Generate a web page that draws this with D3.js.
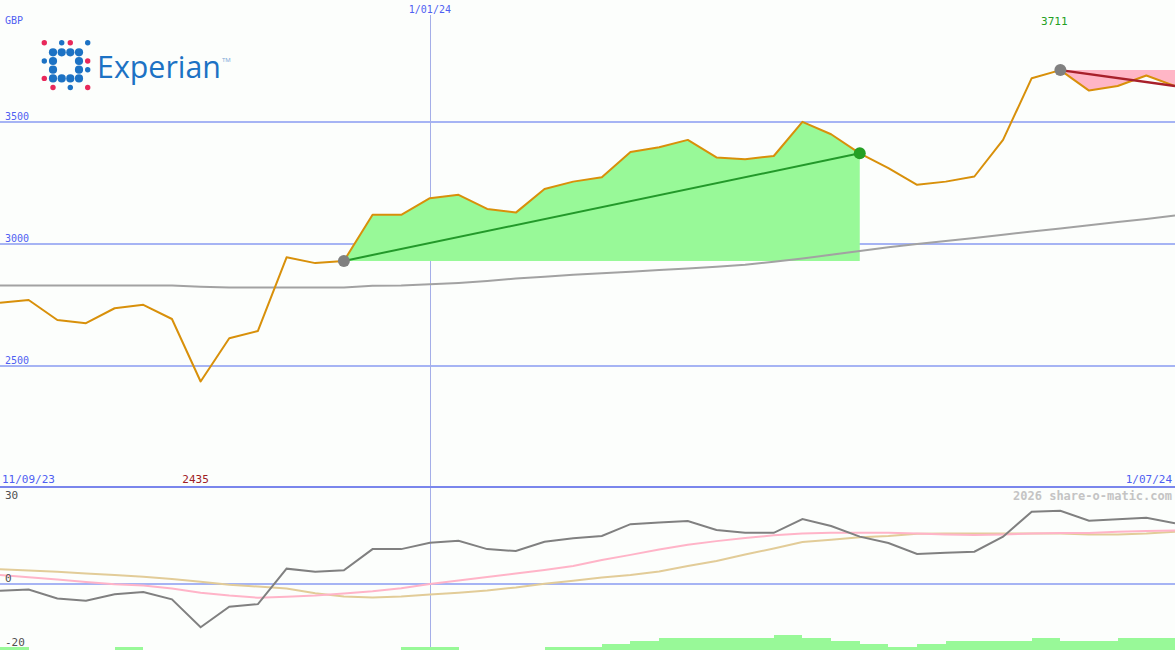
<!DOCTYPE html>
<html><head><meta charset="utf-8">
<script src="https://cdn.jsdelivr.net/npm/d3@7"></script>
<style>
html,body{margin:0;padding:0;background:#fcfefc;}
svg{display:block;}
text{font-family:"DejaVu Sans Mono","Liberation Mono",monospace;}
.crisp{shape-rendering:crispEdges;}
</style>
</head><body>
<svg id="chart" width="1175" height="650"></svg>
<script>
// ---------- data ----------
const dateLabels = ["11/09/23", "1/01/24", "1/07/24"];
const newYearIndex = 15;
const currency = "GBP";
const price = [2758,2769,2687,2674,2735,2749,2691,2435,2612,2642,2944,2920,2929,3118,3118,3186,3200,3142,3127,3224,3254,3272,3375,3395,3425,3353,3346,3359,3499,3448,3370,3309,3241,3254,3275,3425,3678,3711,3627,3646,3689,3646];
const movingAvg = [2828,2828,2828,2828,2828,2828,2828,2823,2820,2820,2820,2820,2820,2827,2828,2833,2839,2847,2857,2864,2872,2878,2885,2892,2898,2905,2913,2926,2939,2954,2970,2985,2998,3011,3023,3036,3050,3062,3075,3089,3101,3115];
const momentum = [-2.1,-1.7,-4.5,-5.2,-3.2,-2.5,-4.8,-13.5,-7.1,-6.3,4.8,3.8,4.3,10.9,10.9,12.9,13.5,10.9,10.3,13.2,14.3,15.0,18.7,19.2,19.7,16.9,16.0,16.0,20.3,18.1,14.8,12.8,9.4,9.8,10.1,14.8,22.6,22.9,19.8,20.2,20.7,19.0];
const signalPink = [2.8,2.1,1.4,0.6,-0.1,-0.5,-1.4,-2.7,-3.6,-4.3,-4.0,-3.6,-3.0,-2.3,-1.3,0.0,1.1,2.2,3.3,4.4,5.6,7.5,9.1,10.8,12.3,13.4,14.4,15.2,15.8,16.0,16.0,16.0,15.8,15.5,15.3,15.5,15.8,15.9,15.9,16.3,16.6,16.7];
const signalTan = [4.6,4.2,3.8,3.3,2.8,2.3,1.6,0.7,-0.2,-0.8,-1.4,-2.9,-3.9,-4.2,-3.9,-3.3,-2.7,-2.0,-1.1,0.1,1.0,2.0,2.8,3.9,5.6,7.2,9.2,11.1,13.1,13.8,14.6,15.0,15.7,15.8,15.8,15.8,15.8,15.8,15.5,15.5,15.8,16.3];
const volumeBars = [1,0,0,0,1,0,0,0,0,0,0,0,0,0,1,1,0,0,0,1,1,2,3,4,4,4,4,5,4,3,2,1,2,3,3,3,4,3,3,4,4];
const priceTicks = [2500, 3000, 3500];
const lowerTicks = [-20, 0, 30];
const upTrend = [12, 30];     // start / end index of rising segment
const downTrend = [37, 41];   // start / end index of falling segment
const highLabel = "3711";
const lowLabel = "2435";
const watermark = "2026 share-o-matic.com";

// ---------- layout ----------
const W = 1175, H = 650;
const svg = d3.select("#chart");
svg.append("rect").attr("width", W).attr("height", H).attr("fill", "#fcfefc");

const x = d3.scaleLinear().domain([0, price.length - 1]).range([0, W]);
const y = d3.scaleLinear().domain([2500, 3500]).range([365.6, 121.6]);
const yl = d3.scaleLinear().domain([-20, 30]).range([648, 488]);
const yb = d3.scaleLinear().domain([0, 5]).range([650, 635]);

const gridCol = "#a6b4f4";
const labelBlue = "#4f5ff2";

// grid lines (main)
svg.append("g").attr("class", "crisp").selectAll("line").data(priceTicks).join("line")
  .attr("x1", 0).attr("x2", W)
  .attr("y1", d => y(d)).attr("y2", d => y(d))
  .attr("stroke", gridCol).attr("stroke-width", 2);

// lower panel zero line
svg.append("line").attr("class", "crisp").attr("x1", 0).attr("x2", W)
  .attr("y1", yl(0)).attr("y2", yl(0))
  .attr("stroke", gridCol).attr("stroke-width", 2);

// vertical new-year line
svg.append("line").attr("class", "crisp")
  .attr("x1", Math.round(x(newYearIndex)) + 0.5).attr("x2", Math.round(x(newYearIndex)) + 0.5)
  .attr("y1", 15).attr("y2", H)
  .attr("stroke", "#a4aee8").attr("stroke-width", 1);

// green up area
const upIdx = d3.range(upTrend[0], upTrend[1] + 1);
const upBase = price[upTrend[0]];
svg.append("path")
  .datum(upIdx)
  .attr("d", d3.area().x(i => x(i)).y0(y(upBase)).y1(i => y(price[i])))
  .attr("fill", "#98f998");

// pink down area
const dnIdx = d3.range(downTrend[0], downTrend[1] + 1);
const dnBase = price[downTrend[0]];
svg.append("path")
  .datum(dnIdx)
  .attr("d", d3.area().x(i => x(i)).y0(y(dnBase)).y1(i => y(price[i])))
  .attr("fill", "#ffb6c6");

// moving average
svg.append("path").datum(movingAvg)
  .attr("d", d3.line().x((d, i) => x(i)).y(d => y(d)))
  .attr("fill", "none").attr("stroke", "#a2a2a2").attr("stroke-width", 2);

// price line
svg.append("path").datum(price)
  .attr("d", d3.line().x((d, i) => x(i)).y(d => y(d)))
  .attr("fill", "none").attr("stroke", "#d8900a").attr("stroke-width", 2)
  .attr("stroke-linejoin", "round");

// trend lines
svg.append("line")
  .attr("x1", x(upTrend[0])).attr("y1", y(price[upTrend[0]]))
  .attr("x2", x(upTrend[1])).attr("y2", y(price[upTrend[1]]))
  .attr("stroke", "#23992a").attr("stroke-width", 2);
svg.append("line")
  .attr("x1", x(downTrend[0])).attr("y1", y(price[downTrend[0]]))
  .attr("x2", x(downTrend[1])).attr("y2", y(price[downTrend[1]]))
  .attr("stroke", "#a8202a").attr("stroke-width", 2.5);

// markers
svg.append("circle").attr("cx", x(upTrend[0])).attr("cy", y(price[upTrend[0]])).attr("r", 6).attr("fill", "#808080");
svg.append("circle").attr("cx", x(upTrend[1])).attr("cy", y(price[upTrend[1]])).attr("r", 6).attr("fill", "#24a024");
svg.append("circle").attr("cx", x(downTrend[0])).attr("cy", y(price[downTrend[0]])).attr("r", 6).attr("fill", "#808080");

// lower panel top border
svg.append("line").attr("class", "crisp").attr("x1", 0).attr("x2", W).attr("y1", 486.7).attr("y2", 486.7)
  .attr("stroke", "#7a86ec").attr("stroke-width", 2);

// volume-like bars
svg.append("g").attr("class", "crisp").selectAll("rect").data(volumeBars).join("rect")
  .attr("x", (d, i) => x(i)).attr("width", (d, i) => x(i + 1) - x(i))
  .attr("y", d => yb(d)).attr("height", d => yb(0) - yb(d))
  .attr("fill", "#98f998");

// lower lines
const lline = d3.line().x((d, i) => x(i)).y(d => yl(d));
svg.append("path").datum(signalTan).attr("d", lline)
  .attr("fill", "none").attr("stroke", "#e2cc98").attr("stroke-width", 2);
svg.append("path").datum(signalPink).attr("d", lline)
  .attr("fill", "none").attr("stroke", "#ffb4c8").attr("stroke-width", 2);
svg.append("path").datum(momentum).attr("d", lline)
  .attr("fill", "none").attr("stroke", "#808080").attr("stroke-width", 2);

// ---------- texts ----------
const fs = "10px";
svg.append("text").attr("x", 5).attr("y", 24).attr("fill", labelBlue).style("font-size", fs).text(currency);
svg.append("g").selectAll("text").data(priceTicks).join("text")
  .attr("x", 5).attr("y", d => y(d) - 2).attr("fill", labelBlue).style("font-size", fs)
  .text(d => d);
svg.append("text").attr("x", x(newYearIndex)).attr("y", 13).attr("text-anchor", "middle")
  .attr("fill", labelBlue).style("font-size", fs).text(dateLabels[1]);
svg.append("text").attr("x", x(price.indexOf(d3.max(price))) - 6).attr("y", 25).attr("text-anchor", "middle")
  .attr("fill", "#24a024").style("font-size", "11px").text(highLabel);
svg.append("text").attr("x", x(price.indexOf(d3.min(price))) - 5).attr("y", 483).attr("text-anchor", "middle")
  .attr("fill", "#a02024").style("font-size", "11px").text(lowLabel);
svg.append("text").attr("x", 2).attr("y", 483).attr("fill", labelBlue).style("font-size", "11px").text(dateLabels[0]);
svg.append("text").attr("x", 1172).attr("y", 483).attr("text-anchor", "end").attr("fill", labelBlue).style("font-size", "11px").text(dateLabels[2]);
svg.append("g").selectAll("text").data(lowerTicks).join("text")
  .attr("x", 5).attr("y", d => d === 30 ? yl(d) + 11 : yl(d) - 2.5)
  .attr("fill", "#505050").style("font-size", "11px").text(d => d);
svg.append("text").attr("x", 1172).attr("y", 500).attr("text-anchor", "end")
  .attr("fill", "#c4c4c4").style("font-size", "12px").style("font-weight", "bold").text(watermark);

// ---------- logo ----------
const logoCols = [44.3, 53, 61.7, 70.3, 79, 87.7];
const logoRows = [42.7, 52.3, 61, 69.7, 78.4, 87.5];
// [col,row,type] type: 0 small blue, 1 big blue, 2 small red
const logoDots = [
  [0,0,2],[2,0,0],[3,0,2],[5,0,0],
  [1,1,1],[2,1,1],[3,1,1],[4,1,1],
  [0,2,0],[1,2,1],[4,2,1],[5,2,2],
  [1,3,1],[4,3,1],[5,3,0],
  [0,4,2],[1,4,1],[2,4,1],[3,4,1],[4,4,1],
  [1,5,2],[3,5,0],[5,5,2]
];
const logo = svg.append("g");
logo.selectAll("circle").data(logoDots).join("circle")
  .attr("cx", d => logoCols[d[0]]).attr("cy", d => logoRows[d[1]])
  .attr("r", d => d[2] === 1 ? 4.1 : 2.7)
  .attr("fill", d => d[2] === 2 ? "#e8285a" : "#1c72c4");
logo.append("text").attr("x", 97).attr("y", 78)
  .attr("textLength", 124).attr("lengthAdjust", "spacingAndGlyphs")
  .style("font-family", "'Open Sans','Noto Sans',sans-serif").style("font-size", "31px")
  .attr("fill", "#1c72c4").text("Experian");
logo.append("text").attr("x", 222).attr("y", 62)
  .style("font-family", "'Noto Sans',sans-serif").style("font-size", "6px")
  .attr("fill", "#7ea8d8").text("TM");
</script>
</body></html>
